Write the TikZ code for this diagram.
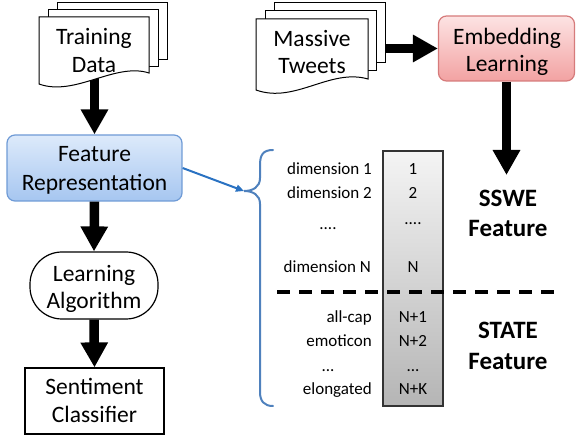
\documentclass[tikz,border=0pt]{standalone}
\usepackage{fontspec}
\setmainfont{Carlito}
\usetikzlibrary{arrows.meta}
\definecolor{frtop}{HTML}{DDEAFB}
\definecolor{frbot}{HTML}{A6C6F0}
\definecolor{frline}{HTML}{6F9BD6}
\definecolor{emtop}{HTML}{FDE3E3}
\definecolor{embot}{HTML}{F2A2A2}
\definecolor{emline}{HTML}{D67B7B}
\definecolor{coltop}{HTML}{F4F4F4}
\definecolor{colbot}{HTML}{B5B5B5}
\definecolor{bracecol}{HTML}{4F81BD}
\definecolor{bluearrow}{HTML}{2A72C2}
\begin{document}
\begin{tikzpicture}[x=1pt,y=-1pt,
  big/.style={font=\fontsize{23.5}{28}\selectfont, inner sep=0pt, anchor=base},
  small/.style={font=\fontsize{17}{20}\selectfont, inner sep=0pt},
  boldtxt/.style={font=\fontsize{25}{30}\selectfont\bfseries, inner sep=0pt, anchor=base},
  fat/.style={line width=9.5pt, -{Triangle[length=25pt,width=26pt]}},
  page/.style={draw=black, fill=white, line width=1pt},
  plainbox/.style={draw=black, fill=white, line width=1.2pt},
]
\useasboundingbox (0,0) rectangle (576,438);

% boxes
\node[plainbox, draw=frline, top color=frtop, bottom color=frbot, rounded corners=8pt,
      minimum width=175pt, minimum height=66pt] (fr) at (94.5,168) {};
\node[plainbox, rounded corners=32pt, minimum width=128pt, minimum height=67pt] (la) at (94,285.5) {};
\node[plainbox, minimum width=139pt, minimum height=66pt] (sc) at (94.5,401) {};
\node[plainbox, draw=emline, top color=emtop, bottom color=embot, rounded corners=8pt,
      minimum width=136pt, minimum height=65pt] (em) at (506.5,48.5) {};

% box texts
\node[big] (fr1) at (94.5,162) {Feature};
\node[big] (fr2) at (94.5,191) {Representation};
\node[big] (la1) at (94,282) {Learning};
\node[big] (la2) at (94,309) {Algorithm};
\node[big] (sc1) at (94.5,395) {Sentiment};
\node[big] (sc2) at (94.5,422) {Classifier};
\node[big] (em1) at (507,45) {Embedding};
\node[big] (em2) at (507,72) {Learning};

% connector anchors
\coordinate (tdout) at (94.5,76);
\coordinate (mtout) at (372,48.5);
\coordinate (sswetip) at (506.5,175);
\coordinate (bracetip) at (244,191);

% arrows
\draw[fat] (tdout) -- (fr.north);
\draw[fat] (fr.south) -- (la.north);
\draw[fat] (la.south) -- (sc.north);
\draw[fat] (mtout) -- (em.west);
\draw[fat] (em.south) -- (sswetip);
\draw[bluearrow, line width=2pt, -{Triangle[length=8pt,width=7pt]}] (fr.east) -- (bracetip);

% Training Data document
\draw[page] (57,3) rectangle (167,60);
\draw[page] (48,10) rectangle (158,67);
\draw[page] (39,17) -- (149,17) -- (149,73) .. controls (115,62) and (75,97) .. (39,84) -- cycle;
\node[big] (td1) at (94,45) {Training};
\node[big] (td2) at (94,73) {Data};

% Massive Tweets document
\draw[page] (274,3) rectangle (385,63);
\draw[page] (265,11) rectangle (376,71);
\draw[page] (256,19) -- (368,19) -- (368,79) .. controls (330,68) and (295,104) .. (256,90) -- cycle;
\node[big] (mt1) at (312,47) {Massive};
\node[big] (mt2) at (312,74) {Tweets};

% brace
\draw[bracecol, line width=2pt, line cap=round]
  (273,150) .. controls (263,150) and (260,155) .. (260,165) -- (260,178)
  .. controls (260,187) and (253,191) .. (bracetip)
  .. controls (253,191) and (260,195) .. (260,204) -- (260,392)
  .. controls (260,401) and (264,406) .. (273,406);

% feature column
\node[draw=black!80, line width=1.3pt, top color=coltop, bottom color=colbot, inner sep=0pt,
      minimum width=60pt, minimum height=255pt] (col) at (413,278.5) {};

% dashed separator
\coordinate (dashl) at (277,292);
\coordinate (dashr) at (561,292);
\draw[line width=3.5pt, dash pattern=on 13pt off 9pt] (dashl) -- (dashr);

% labels
\node[small, anchor=base east] (l1) at (372,175) {dimension 1};
\node[small, anchor=base east] (l2) at (372,199) {dimension 2};
\node[small, anchor=base] (l3) at (328,230) {....};
\node[small, anchor=base east] (l4) at (371,273) {dimension N};
\node[small, anchor=base east] (l5) at (372,323) {all-cap};
\node[small, anchor=base east] (l6) at (372,347) {emoticon};
\node[small, anchor=base] (l7) at (328,372) {...};
\node[small, anchor=base east] (l8) at (372,395) {elongated};

\node[small, anchor=base] (c1) at (413,175) {1};
\node[small, anchor=base] (c2) at (413,199) {2};
\node[small, anchor=base] (c3) at (413,225) {....};
\node[small, anchor=base] (c4) at (413,273) {N};
\node[small, anchor=base] (c5) at (413,323) {N+1};
\node[small, anchor=base] (c6) at (413,347) {N+2};
\node[small, anchor=base] (c7) at (413,372) {...};
\node[small, anchor=base] (c8) at (413,395) {N+K};

\node[boldtxt] (sswe) at (508,207) {SSWE};
\node[boldtxt] (sswef) at (508,237) {Feature};
\node[boldtxt] (state) at (508,339) {STATE};
\node[boldtxt] (statef) at (508,370) {Feature};
\end{tikzpicture}
\end{document}
